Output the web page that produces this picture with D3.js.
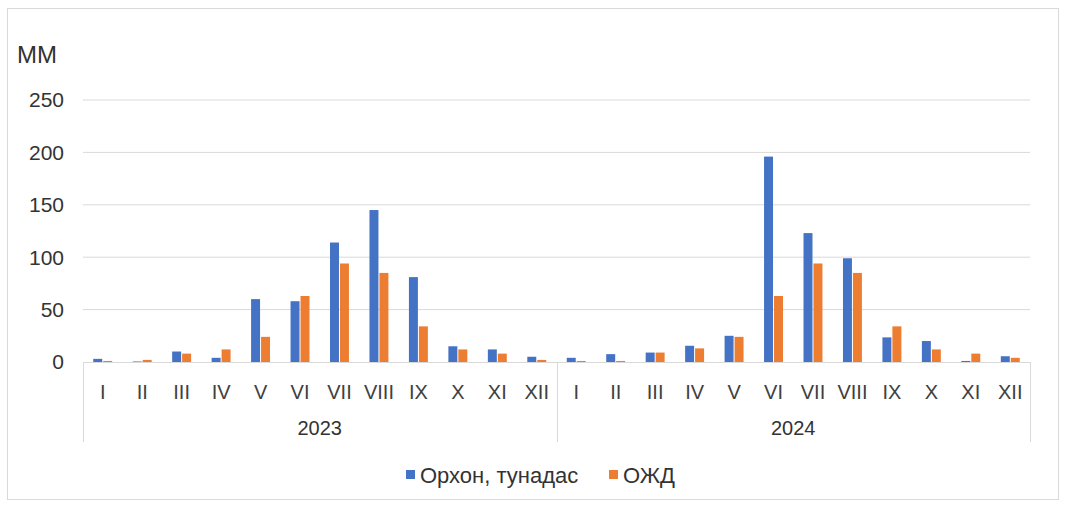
<!DOCTYPE html>
<html><head><meta charset="utf-8">
<script src="https://cdn.jsdelivr.net/npm/d3@7"></script>
<style>body{margin:0;background:#fff}svg{display:block;font-family:"Liberation Sans",Arial,sans-serif}</style>
</head><body><svg id="c" width="1066" height="507"></svg>
<script>
const years = ["2023", "2024"];
const months = ["I","II","III","IV","V","VI","VII","VIII","IX","X","XI","XII"];
const seriesNames = ["Орхон, тунадас", "ОЖД"];
const orkhon = [3,0.5,10,4,60,58,114,145,81,15,12,5, 4,7.5,9,15.5,25,196,123,99,23.5,20,1,5.5];
const ozhd   = [1,2,8,12,24,63,94,85,34,12,8,2, 1,1,9,13,24,63,94,85,34,12,8,4];
const yTicks = [0,50,100,150,200,250];
const colors = ["#4472C4", "#ED7D31"];

const svg = d3.select("#c");
const m = {l:83, r:1030, t:100, b:362};
const cats = [];
years.forEach(y => months.forEach(mo => cats.push(y + "-" + mo)));
const x = d3.scaleBand().domain(cats).range([m.l, m.r]).paddingInner(0.52).paddingOuter(0.26);
const y = d3.scaleLinear().domain([0,250]).range([m.b, m.t]);
const xs = d3.scaleBand().domain([0,1]).range([0, x.bandwidth()]).paddingInner(0.1);

svg.append("rect").attr("x",7.5).attr("y",8.5).attr("width",1051).attr("height",491)
  .attr("fill","none").attr("stroke","#d9d9d9");

// grid
svg.append("g").selectAll("line").data(yTicks.filter(d=>d>0)).join("line")
  .attr("x1",m.l).attr("x2",m.r).attr("y1",d=>y(d)).attr("y2",d=>y(d))
  .attr("stroke","#d9d9d9").attr("stroke-width",1);

// y labels
svg.append("g").selectAll("text").data(yTicks).join("text")
  .attr("x",64).attr("y",d=>y(d)).attr("dy","0.35em").attr("text-anchor","end")
  .attr("font-size",21).attr("fill","#333").text(d=>d);
svg.append("text").attr("x",17).attr("y",63).attr("font-size",24).attr("fill","#333").text("ММ");

// bars
const data = cats.map((c,i)=>({c, v:[orkhon[i], ozhd[i]]}));
const g = svg.append("g");
data.forEach(d => {
  d.v.forEach((v,k)=>{
    g.append("rect").attr("x", x(d.c)+xs(k)).attr("width", xs.bandwidth())
     .attr("y", y(v)).attr("height", y(0)-y(v)).attr("fill", colors[k]);
  });
});

// zero axis
svg.append("line").attr("x1",m.l).attr("x2",m.r).attr("y1",y(0)+0.5).attr("y2",y(0)+0.5).attr("stroke","#d9d9d9");

// month labels
svg.append("g").selectAll("text").data(cats).join("text")
  .attr("x",d=>x(d)+x.bandwidth()/2).attr("y",392).attr("dy","0.35em").attr("text-anchor","middle")
  .attr("font-size",20).attr("fill","#404040").text(d=>d.split("-")[1]);

// year group separators
const bounds = [m.l, (m.l+m.r)/2, m.r];
svg.append("g").selectAll("line").data(bounds).join("line")
  .attr("x1",d=>Math.round(d)+0.5).attr("x2",d=>Math.round(d)+0.5).attr("y1",y(0)).attr("y2",442)
  .attr("stroke","#d9d9d9");
svg.append("g").selectAll("text").data(years).join("text")
  .attr("x",(d,i)=>(bounds[i]+bounds[i+1])/2).attr("y",428).attr("dy","0.35em").attr("text-anchor","middle")
  .attr("font-size",20).attr("fill","#333").text(d=>d);

// legend
const leg = svg.append("g");
const lx = [406, 609];
seriesNames.forEach((s,i)=>{
  leg.append("rect").attr("x",lx[i]).attr("y",470).attr("width",9).attr("height",9).attr("fill",colors[i]);
  leg.append("text").attr("x",lx[i]+14).attr("y",475).attr("dy","0.35em").attr("font-size",22)
    .attr("fill","#333").text(s);
});
</script></body></html>
